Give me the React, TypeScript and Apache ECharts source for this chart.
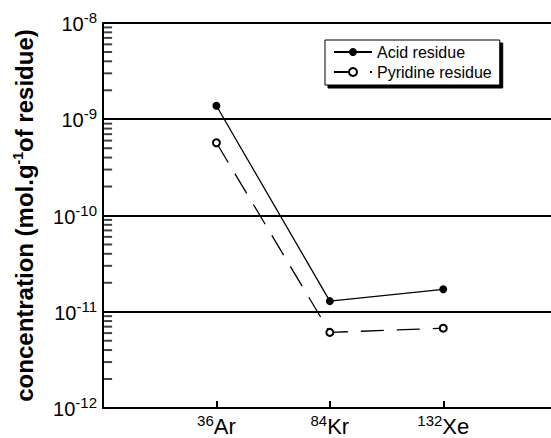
import React, { useEffect, useRef } from "react";
import * as echarts from "echarts";

const elements = ["Ar", "Kr", "Xe"];
const massNumbers = ["36", "84", "132"];
const acidResidue = [1.38e-9, 1.29e-11, 1.71e-11];
const pyridineResidue = [5.7e-10, 6.1e-12, 6.75e-12];
const seriesNames = ["Acid residue", "Pyridine residue"];
const decadeExponents = [-12, -11, -10, -9];
const minorMultipliers = [2, 3, 4, 5, 6, 7, 8, 9];

const FONT = "Liberation Sans, Arial, sans-serif";

export default function App() {
  const ref = useRef<HTMLDivElement>(null);
  useEffect(() => {
    if (!ref.current) return;
    const chart = echarts.init(ref.current, undefined, { renderer: "svg" });
    const toData = (arr: number[]) => arr.map((v, i) => [i + 1, v]);
    const minorTickValues: number[] = [];
    decadeExponents.forEach((e) =>
      minorMultipliers.forEach((m) => minorTickValues.push(m * Math.pow(10, e)))
    );
    chart.setOption({
      animation: false,
      textStyle: { fontFamily: FONT, color: "#000" },
      grid: { left: 103, right: 0, top: 23, bottom: 30 },
      legend: {
        left: 325,
        top: 40,
        orient: "vertical",
        data: seriesNames,
        borderColor: "#000",
        borderWidth: 1,
        backgroundColor: "#fff",
        shadowColor: "#000",
        shadowBlur: 0,
        shadowOffsetX: 3,
        shadowOffsetY: 3,
        padding: [4, 8, 5, 8],
        itemWidth: 38,
        itemHeight: 10,
        itemGap: 4,
        textStyle: { fontSize: 16, fontFamily: FONT, color: "#000" },
      },
      xAxis: {
        type: "value",
        min: 0,
        max: 3.95,
        interval: 1,
        axisLine: { show: true, lineStyle: { color: "#000", width: 2 } },
        axisTick: { show: true, inside: true, length: 7, lineStyle: { color: "#000", width: 2 } },
        splitLine: { show: false },
        axisLabel: {
          margin: 5,
          showMinLabel: false,
          showMaxLabel: false,
          formatter: (v: number) => {
            const i = Math.round(v) - 1;
            if (i < 0 || i >= elements.length) return "";
            return `{s|${massNumbers[i]}}{b|${elements[i]}}`;
          },
          rich: {
            b: { fontSize: 22, fontFamily: FONT, color: "#000", verticalAlign: "bottom", lineHeight: 24 },
            s: { fontSize: 15, fontFamily: FONT, color: "#000", verticalAlign: "bottom", lineHeight: 24, padding: [0, 0, 9, 0] },
          },
        },
      },
      yAxis: {
        type: "log",
        logBase: 10,
        min: 1e-12,
        max: 1e-8,
        name: "{t|concentration (mol.g}{s|-1}{t|of residue)}",
        nameLocation: "middle",
        nameGap: 67,
        nameTextStyle: {
          rich: {
            t: { fontSize: 24, fontWeight: "bold", fontFamily: FONT, color: "#000", verticalAlign: "bottom", lineHeight: 28 },
            s: { fontSize: 14, fontWeight: "bold", fontFamily: FONT, color: "#000", verticalAlign: "bottom", lineHeight: 28, padding: [0, 0, 11, 0] },
          },
        },
        axisLine: { show: true, lineStyle: { color: "#000", width: 2 } },
        axisTick: { show: false },
        splitLine: { show: true, lineStyle: { color: "#000", width: 2 } },
        axisLabel: {
          margin: 6,
          formatter: (v: number) => `{b|10}{s|${Math.round(Math.log10(v))}}`,
          rich: {
            b: { fontSize: 20, fontFamily: FONT, color: "#000", verticalAlign: "bottom", lineHeight: 22 },
            s: { fontSize: 15, fontFamily: FONT, color: "#000", verticalAlign: "bottom", lineHeight: 22, padding: [0, 0, 9, 0] },
          },
        },
      },
      series: [
        {
          name: seriesNames[0],
          type: "line",
          data: toData(acidResidue),
          symbol: "circle",
          symbolSize: 8,
          itemStyle: { color: "#000" },
          lineStyle: { color: "#000", width: 1.3 },
        },
        {
          name: seriesNames[1],
          type: "line",
          data: toData(pyridineResidue),
          symbol: "emptyCircle",
          symbolSize: 7,
          itemStyle: { color: "#000", borderColor: "#000", borderWidth: 1 },
          lineStyle: { color: "#000", width: 1.3, type: [23, 13] },
        },
        {
          name: "minorTicks",
          type: "scatter",
          silent: true,
          clip: false,
          data: minorTickValues.map((v) => [0.045, v]),
          symbol: "rect",
          symbolSize: [8, 2],
          itemStyle: { color: "#111" },
          z: 10,
        },
      ],
    });
    return () => chart.dispose();
  }, []);
  return <div ref={ref} style={{ width: 551, height: 438, position: "absolute", left: 0, top: 0, background: "#fff" }} />;
}
